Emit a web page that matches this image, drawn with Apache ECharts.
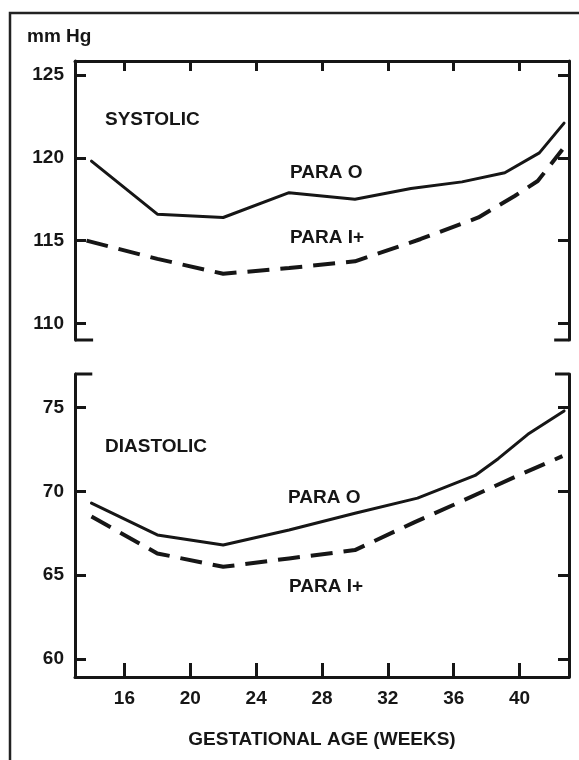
<!DOCTYPE html>
<html>
<head>
<meta charset="utf-8">
<script src="https://cdn.jsdelivr.net/npm/echarts@6/dist/echarts.min.js"></script>
<style>
html,body{margin:0;padding:0;background:#fff;}
#c{width:579px;height:760px;}
</style>
</head>
<body>
<div id="c"></div>
<script>
// ---- data ----
const weekTicks = [16, 20, 24, 28, 32, 36, 40];
const sysTicks = [110, 115, 120, 125];
const diaTicks = [60, 65, 70, 75];

const sysPara0Weeks = [14, 18, 22, 26, 30, 33.4, 36.5, 39.1, 41.2, 42.7];
const sysPara0 = [119.8, 116.6, 116.4, 117.9, 117.5, 118.15, 118.55, 119.1, 120.3, 122.1];

const sysPara1Weeks = [13.7, 18, 22, 26, 30, 34, 37.5, 39.7, 41.1, 42.6];
const sysPara1 = [115.0, 113.9, 113.0, 113.35, 113.75, 115.1, 116.4, 117.7, 118.6, 120.5];

const diaPara0Weeks = [14, 18, 22, 26, 30, 33.8, 37.3, 38.7, 40.5, 42.7];
const diaPara0 = [69.3, 67.4, 66.8, 67.7, 68.7, 69.6, 70.95, 71.95, 73.4, 74.8];

const diaPara1Weeks = [14, 18, 22, 26, 30, 33.6, 36, 39.8, 42.6];
const diaPara1 = [68.5, 66.3, 65.5, 66.0, 66.5, 68.15, 69.2, 70.9, 72.1];

// ---- axis bounds ----
const weekMin = 13, weekMax = 43;
const sysMin = 109, sysMax = 125.85;
const diaMin = 58.93, diaMax = 77;

const INK = '#161616';
const FONT = '"Liberation Sans", Arial, sans-serif';

function pairs(xs, ys) { return xs.map((x, i) => [x, ys[i]]); }

function stub(x0, x1, y, gi) {
  return {
    type: 'line', xAxisIndex: gi, yAxisIndex: gi * 2, data: [[x0, y], [x1, y]],
    showSymbol: false, symbol: 'none', clip: false, silent: true,
    lineStyle: { color: INK, width: 3 }, z: 5
  };
}

function curve(xs, ys, gi, dashed) {
  return {
    type: 'line', xAxisIndex: gi, yAxisIndex: gi * 2, data: pairs(xs, ys),
    showSymbol: false, symbol: 'none', smooth: false, silent: true,
    lineStyle: dashed
      ? { color: INK, width: 4, type: [22, 11], cap: 'butt' }
      : { color: INK, width: 3, cap: 'round', join: 'round' }
  };
}

function xAx(gi, pos, tickLen, showLabels) {
  return {
    gridIndex: gi, type: 'value', min: weekMin, max: weekMax, position: pos,
    axisLine: { show: true, onZero: false, lineStyle: { color: INK, width: 3 } },
    axisTick: { show: true, inside: true, length: tickLen, customValues: weekTicks,
      lineStyle: { color: INK, width: 3 } },
    axisLabel: { show: showLabels, customValues: weekTicks, margin: 12,
      color: INK, fontSize: 19, fontWeight: 'bold', fontFamily: FONT },
    splitLine: { show: false }
  };
}

function yAx(gi, pos, mn, mx, ticks, showLabels) {
  return {
    gridIndex: gi, type: 'value', min: mn, max: mx, position: pos,
    axisLine: { show: true, onZero: false, lineStyle: { color: INK, width: 3 } },
    axisTick: { show: true, inside: true, length: 11, customValues: ticks,
      lineStyle: { color: INK, width: 3 } },
    axisLabel: { show: showLabels, customValues: ticks, margin: 11,
      color: INK, fontSize: 19, fontWeight: 'bold', fontFamily: FONT },
    splitLine: { show: false }
  };
}

function txt(s, x, y, align) {
  return {
    type: 'text', x: x, y: y, silent: true,
    style: { text: s, fill: INK, font: 'bold 19px ' + FONT,
      align: align || 'left', verticalAlign: 'middle' }
  };
}

const chart = echarts.init(document.getElementById('c'), null, { renderer: 'canvas' });
chart.setOption({
  animation: false,
  backgroundColor: '#fff',
  grid: [
    { left: 75, right: 10, top: 61, height: 279 },
    { left: 75, right: 10, top: 374, height: 303 }
  ],
  xAxis: [ xAx(0, 'top', 10, false), xAx(1, 'bottom', 14, true) ],
  yAxis: [
    yAx(0, 'left', sysMin, sysMax, sysTicks, true),
    yAx(0, 'right', sysMin, sysMax, sysTicks, false),
    yAx(1, 'left', diaMin, diaMax, diaTicks, true),
    yAx(1, 'right', diaMin, diaMax, diaTicks, false)
  ],
  series: [
    curve(sysPara0Weeks, sysPara0, 0, false),
    curve(sysPara1Weeks, sysPara1, 0, true),
    curve(diaPara0Weeks, diaPara0, 1, false),
    curve(diaPara1Weeks, diaPara1, 1, true),
    stub(weekMin, weekMin + 1.1, sysMin, 0),
    stub(weekMax - 0.9, weekMax, sysMin, 0),
    stub(weekMin, weekMin + 1.05, diaMax, 1),
    stub(weekMax - 0.85, weekMax, diaMax, 1)
  ],
  graphic: [
    { type: 'rect', silent: true, shape: { x: 10, y: 13, width: 640, height: 820 },
      style: { fill: 'none', stroke: '#222', lineWidth: 2.5 } },
    txt('mm Hg', 27, 37),
    txt('SYSTOLIC', 105, 120),
    txt('PARA O', 290, 173),
    txt('PARA I+', 290, 238),
    txt('DIASTOLIC', 105, 447),
    txt('PARA O', 288, 498),
    txt('PARA I+', 289, 587),
    txt('GESTATIONAL AGE (WEEKS)', 322, 740, 'center')
  ]
});
</script>
</body>
</html>
